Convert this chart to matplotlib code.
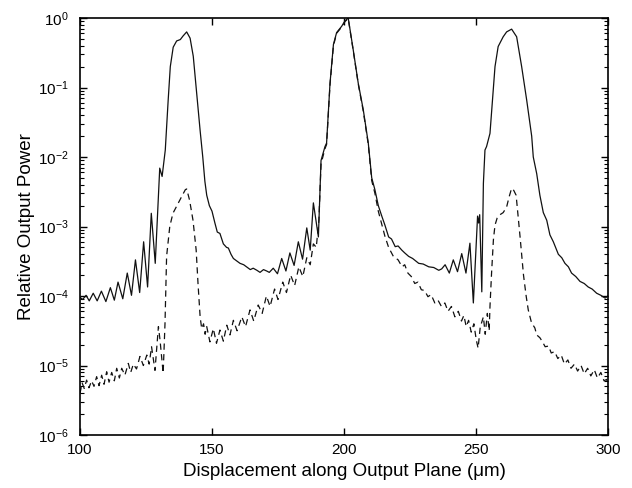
import numpy as np
import matplotlib
matplotlib.use('Agg')
import matplotlib.pyplot as plt

plt.rcParams['font.family'] = ['Liberation Sans', 'DejaVu Sans']
plt.rcParams['mathtext.fontset'] = 'custom'
plt.rcParams['mathtext.rm'] = 'Liberation Sans'

# solid curve: displacement (um) and log10 of relative power
x_solid = [100, 101, 102.3, 103.5, 105, 106.5, 108.1, 109.8, 111.5, 113, 114.4, 116.2,
           117.9, 119.5, 121, 122.6, 124.1, 125.6, 127, 128.5, 130.2, 131.1, 132.3, 133.4,
           134.2, 135.3, 136.6, 138, 139, 140.4, 141.7, 142.9, 144.2, 145.5, 146.5, 147.3,
           148, 149, 150, 151.1, 152, 153, 154.3, 155.5, 156.2, 157.2, 158.1, 159.5, 160.6,
           162, 163.1, 164.5, 165.6, 167, 168.2, 169.5, 170.7, 171.7, 173.2, 174.8, 176.4,
           178, 179.5, 181.1, 182.7, 184.3, 185.9, 187.2, 188.4, 190.3, 191.3, 192.8, 193.4,
           194.7, 196, 197.2, 199.1, 200.4, 201.6, 203.5, 205.4, 207.3, 209.2, 210.5, 211.7,
           213, 214.4, 215.5, 216.9, 218, 219.4, 220.5, 221.9, 223, 224.5, 226, 228.3, 230,
           232.1, 234, 235.9, 237, 238.3, 239.9, 241.4, 243, 244.6, 246.2, 247.7, 249, 250.6,
           251.0, 251.4, 252.2, 252.8, 253.4, 254.0, 255.3, 256.2, 257.2, 258.4, 260.3, 261.6,
           263.5, 265.4, 267.3, 269.2, 271.1, 271.7, 273.0, 274.2, 275.5, 276.8, 278, 279.3,
           281.2, 282.5, 283.7, 285, 286.2, 287.8, 289.4, 291, 292.5, 294, 295.7, 297.3,
           298.9, 300]
logp_solid = [-4.02, -4.05, -3.99, -4.07, -3.96, -4.07, -3.93, -4.08, -3.88, -4.06, -3.80, -4.04,
              -3.67, -3.99, -3.48, -3.95, -3.22, -3.87, -2.81, -3.53, -2.16, -2.28, -1.90, -1.18,
              -0.70, -0.42, -0.33, -0.31, -0.26, -0.20, -0.29, -0.55, -1.08, -1.62, -2.00, -2.35,
              -2.55, -2.70, -2.78, -2.95, -3.08, -3.10, -3.25, -3.30, -3.31, -3.40, -3.46, -3.50, -3.53,
              -3.55, -3.58, -3.62, -3.60, -3.63, -3.66, -3.62, -3.64, -3.66, -3.60, -3.68, -3.46,
              -3.64, -3.38, -3.56, -3.22, -3.47, -3.02, -3.34, -2.66, -3.15, -2.05, -1.85, -1.80,
              -0.94, -0.38, -0.21, -0.12, -0.04, 0.0, -0.46, -0.94, -1.32, -1.80, -2.30, -2.47,
              -2.70, -2.86, -2.98, -3.15, -3.18, -3.29, -3.28, -3.34, -3.38, -3.43, -3.46, -3.53, -3.54,
              -3.58, -3.59, -3.63, -3.61, -3.55, -3.67, -3.48, -3.65, -3.39, -3.67, -3.24, -4.10, -2.85,
              -2.95, -2.83, -3.94, -2.38, -1.90, -1.85, -1.66, -1.20, -0.70, -0.41, -0.27, -0.20,
              -0.16, -0.27, -0.70, -1.18, -1.70, -2.00, -2.24, -2.55, -2.80, -2.91, -3.12, -3.22,
              -3.40, -3.45, -3.53, -3.58, -3.67, -3.72, -3.79, -3.82, -3.87, -3.90, -3.96, -3.99,
              -4.03, -4.00]

# dashed curve
x_dash = [100, 100.8, 101.6, 102.5, 103.4, 104.4, 105.3, 106.3, 107.2, 108.2, 109.1, 110.1,
          111, 112, 113, 113.9, 114.9, 115.8, 117, 118.3, 119.2, 120.2, 121.4, 122.7, 124,
          125.3, 126.2, 127.1, 128.4, 129.7, 130.3, 131.5, 132.2, 132.8, 134, 135.2, 137.1,
          138.5, 139.9, 140.4, 141.5, 142.8, 144, 144.7, 145.5, 146.1, 146.8, 147.4, 148,
          149.2, 150.5, 151.7, 153, 154.3, 155.6, 156.8, 158.1, 159.5, 161.3, 162.7, 164.4,
          165.8, 167.5, 169, 170.6, 172, 173.7, 175, 176.8, 178.2, 179.8, 181.3, 182.9, 184.4,
          185.9, 187.2, 188.4, 189.5, 190.5, 191.3, 192.8, 193.4, 194.7, 196, 197.2, 199.1,
          200.4, 201.6, 203.5, 205.4, 207.3, 209.2, 210.5, 211.7, 213, 214.4, 215.5, 216.9,
          218.7, 220.5, 222, 223, 224.2, 225.5, 226.8, 228, 229.3, 230.5, 231.8, 233, 234.4,
          235.6, 236.9, 238.2, 239.4, 240.7, 242, 243.3, 244.5, 245.4, 246.3, 247.2, 248.2,
          249.2, 250.1, 250.8, 251.6, 252.8, 253.5, 254.3, 255.0, 255.3, 255.9, 256.6, 257.2,
          258, 259.1, 260.3, 261.6, 262.5, 263.5, 264.3, 265.2, 266.7, 268, 269, 269.8, 271,
          272.3, 273, 274.2, 275.2, 276.2, 277.5, 278.5, 279.8, 281, 282.3, 283.5, 284.8, 286,
          287.3, 288.5, 289.8, 291, 292.3, 293.5, 294.8, 296, 297.3, 298.5, 299.5, 300]
logp_dash = [-5.40, -5.25, -5.33, -5.21, -5.32, -5.22, -5.30, -5.16, -5.29, -5.14, -5.27, -5.09,
             -5.24, -5.10, -5.22, -5.04, -5.18, -5.04, -5.14, -4.97, -5.10, -4.98, -5.05, -4.87, -5.00,
             -4.85, -4.98, -4.73, -5.07, -4.44, -4.63, -5.11, -4.39, -3.43, -3.00, -2.81, -2.67,
             -2.57, -2.47, -2.46, -2.62, -2.91, -3.34, -3.82, -4.30, -4.47, -4.40, -4.55, -4.44,
             -4.66, -4.47, -4.68, -4.49, -4.65, -4.42, -4.56, -4.35, -4.50, -4.30, -4.44, -4.20,
             -4.36, -4.13, -4.25, -4.00, -4.15, -3.90, -4.05, -3.80, -3.95, -3.70, -3.85, -3.58, -3.72,
             -3.45, -3.55, -3.25, -3.30, -2.90, -2.10, -1.88, -1.82, -0.96, -0.40, -0.22, -0.13,
             -0.05, -0.01, -0.47, -0.95, -1.34, -1.82, -2.34, -2.52, -2.78, -2.98, -3.14, -3.30,
             -3.43, -3.48, -3.58, -3.55, -3.67, -3.72, -3.82, -3.80, -3.91, -3.92, -4.01, -3.98, -4.10,
             -4.06, -4.15, -4.10, -4.22, -4.15, -4.30, -4.22, -4.36, -4.28, -4.44, -4.35, -4.52,
             -4.40, -4.63, -4.75, -4.45, -4.30, -4.55, -4.25, -4.50, -4.15, -3.67, -3.19, -2.98,
             -2.88, -2.83, -2.80, -2.72, -2.58, -2.45, -2.48, -2.55, -3.15, -3.70, -4.00, -4.20, -4.38,
             -4.46, -4.56, -4.60, -4.66, -4.73, -4.72, -4.82, -4.80, -4.90, -4.85, -4.98, -4.92, -5.04,
             -4.98, -5.08, -5.00, -5.12, -5.04, -5.15, -5.06, -5.18, -5.10, -5.22, -5.20, -5.28]

x_ticks = [100, 150, 200, 250, 300]

fig = plt.figure(figsize=(6.32, 4.88), dpi=100)
ax = fig.add_axes([0.1266, 0.1086, 0.8354, 0.8545])

ax.plot(x_solid, 10 ** np.array(logp_solid), color='#111111', lw=0.9)
ax.plot(x_dash, 10 ** np.array(logp_dash), color='#111111', lw=0.9, linestyle=(0, (5, 3.5)))

ax.set_yscale('log')
ax.set_xlim(100, 300)
ax.set_ylim(1e-6, 1)
ax.set_xticks(x_ticks)
ax.set_yticks([1e-6, 1e-5, 1e-4, 1e-3, 1e-2, 1e-1, 1e0])
ax.tick_params(which='both', direction='in', top=True, right=True, labelsize=11)
ax.tick_params(which='major', length=5, width=1)
ax.tick_params(which='minor', length=3, width=0.8)
ax.tick_params(axis='x', which='major', pad=6)
ax.tick_params(axis='y', which='major', pad=8)
for s in ax.spines.values():
    s.set_linewidth(1.2)

ax.set_xlabel('Displacement along Output Plane (\u03bcm)', fontsize=13.5, labelpad=4)
ax.set_ylabel('Relative Output Power', fontsize=13.5, labelpad=2)

fig.savefig('out.png', dpi=100)
